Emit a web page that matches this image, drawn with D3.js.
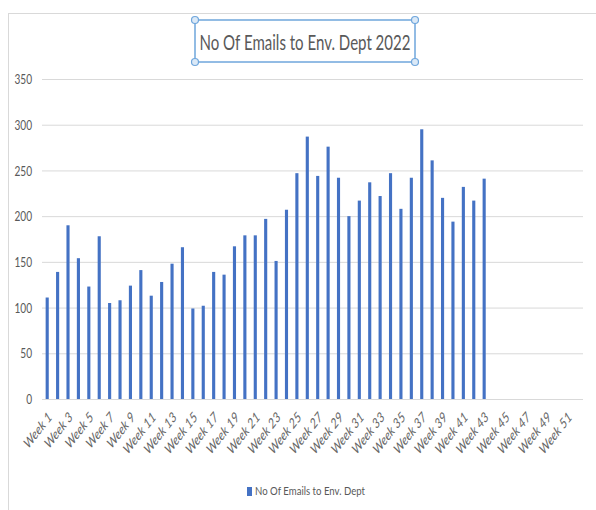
<!DOCTYPE html>
<html>
<head>
<meta charset="utf-8">
<script src="https://cdn.jsdelivr.net/npm/d3@7/dist/d3.min.js"></script>
<style>
  html, body { margin: 0; padding: 0; background: #fff; }
  svg { display: block; }
</style>
</head>
<body>
<svg id="chart" width="596" height="510"></svg>
<script>
// Weekly email counts (weeks 44–52 have no data yet)
const weeks = d3.range(1, 53).map(i => "Week " + i);
const emails = [
  111, 139, 190, 154, 123, 178, 105, 108, 124, 141,
  113, 128, 148, 166, 99, 102, 139, 136, 167, 179,
  179, 197, 151, 207, 247, 287, 244, 276, 242, 200,
  217, 237, 222, 247, 208, 242, 295, 261, 220, 194,
  232, 217, 241
];
const yTicks = [0, 50, 100, 150, 200, 250, 300, 350];
const seriesName = "No Of Emails to Env. Dept";
const titleText = "No Of Emails to Env. Dept 2022";

const data = weeks.map((w, i) => ({ week: w, value: i < emails.length ? emails[i] : null }));

const svg = d3.select("#chart");
const font = "Lato, 'Open Sans', sans-serif";
const textGrey = "#595959";
const stretch = 1.28;   // tall, narrow lettering

// chart area frame
svg.append("rect")
  .attr("x", 8.5).attr("y", 13.5)
  .attr("width", 620).attr("height", 520)
  .attr("fill", "#fff").attr("stroke", "#d9d9d9").attr("stroke-width", 1);

const plot = { left: 42, right: 583, top: 79, bottom: 399 };

const x = d3.scaleBand()
  .domain(weeks)
  .range([plot.left, plot.right])
  .paddingInner(0.7)
  .paddingOuter(0.35);

const y = d3.scaleLinear()
  .domain([0, 350])
  .range([plot.bottom, plot.top]);

// gridlines + y labels
const yAxis = d3.axisLeft(y)
  .tickValues(yTicks)
  .tickSize(-(plot.right - plot.left))
  .tickPadding(0);

const gy = svg.append("g")
  .attr("transform", `translate(${plot.left},0)`)
  .call(yAxis);
gy.select(".domain").remove();
gy.selectAll(".tick line").attr("stroke", "#d9d9d9").attr("stroke-width", 1);
gy.selectAll(".tick text")
  .attr("fill", textGrey)
  .attr("x", 0)
  .attr("dy", "0.36em")
  .attr("text-anchor", "end")
  .style("font-family", font)
  .style("font-size", "11px")
  .attr("transform", `translate(-10,0) scale(0.92,${stretch * 0.9})`);

// bars
svg.append("g")
  .selectAll("rect")
  .data(data.filter(d => d.value !== null))
  .join("rect")
  .attr("x", d => x(d.week))
  .attr("y", d => y(d.value))
  .attr("width", x.bandwidth())
  .attr("height", d => y(0) - y(d.value))
  .attr("fill", "#4472c4");

// x axis baseline
svg.append("line")
  .attr("x1", plot.left).attr("x2", plot.right)
  .attr("y1", y(0) + 0.5).attr("y2", y(0) + 0.5)
  .attr("stroke", "#d9d9d9");

// category labels, every other week, rotated
const xAxis = d3.axisBottom(x)
  .tickValues(weeks.filter((w, i) => i % 2 === 0))
  .tickSize(0)
  .tickPadding(0);

const gx = svg.append("g")
  .attr("transform", `translate(0,${plot.bottom})`)
  .call(xAxis);
gx.select(".domain").remove();
gx.selectAll(".tick text")
  .attr("fill", "#666")
  .style("font-family", font)
  .style("font-size", "11px")
  .style("font-style", "italic")
  .attr("text-anchor", "end")
  .attr("y", 0)
  .attr("dy", "0.7em")
  .attr("transform", `translate(0,12) scale(1,${stretch}) rotate(-45)`);

// title text box with selection handles
const box = { x: 195, y: 20, w: 220, h: 42 };
svg.append("rect")
  .attr("x", box.x).attr("y", box.y)
  .attr("width", box.w).attr("height", box.h)
  .attr("fill", "none")
  .attr("stroke", "#6fa6dc").attr("stroke-width", 1.5);

svg.append("text")
  .attr("transform", `translate(${box.x + box.w / 2},49.5) scale(1,${stretch})`)
  .attr("text-anchor", "middle")
  .attr("fill", textGrey)
  .attr("textLength", 211)
  .attr("lengthAdjust", "spacingAndGlyphs")
  .style("font-family", font)
  .style("font-size", "16px")
  .text(titleText);

const handles = [[box.x, box.y], [box.x + box.w, box.y], [box.x, box.y + box.h], [box.x + box.w, box.y + box.h]];
svg.append("g").selectAll("circle")
  .data(handles)
  .join("circle")
  .attr("cx", d => d[0]).attr("cy", d => d[1])
  .attr("r", 3.5)
  .attr("fill", "#dbe9f7")
  .attr("stroke", "#6fa6dc").attr("stroke-width", 1.2);

// legend
const legend = svg.append("g").attr("transform", "translate(247,486)");
legend.append("rect")
  .attr("x", 0).attr("y", 1)
  .attr("width", 5).attr("height", 9)
  .attr("fill", "#4472c4");
legend.append("text")
  .attr("transform", `translate(8,9) scale(1,${stretch * 0.95})`)
  .attr("fill", textGrey)
  .attr("textLength", 110)
  .attr("lengthAdjust", "spacingAndGlyphs")
  .style("font-family", font)
  .style("font-size", "10px")
  .text(seriesName);
</script>
</body>
</html>
